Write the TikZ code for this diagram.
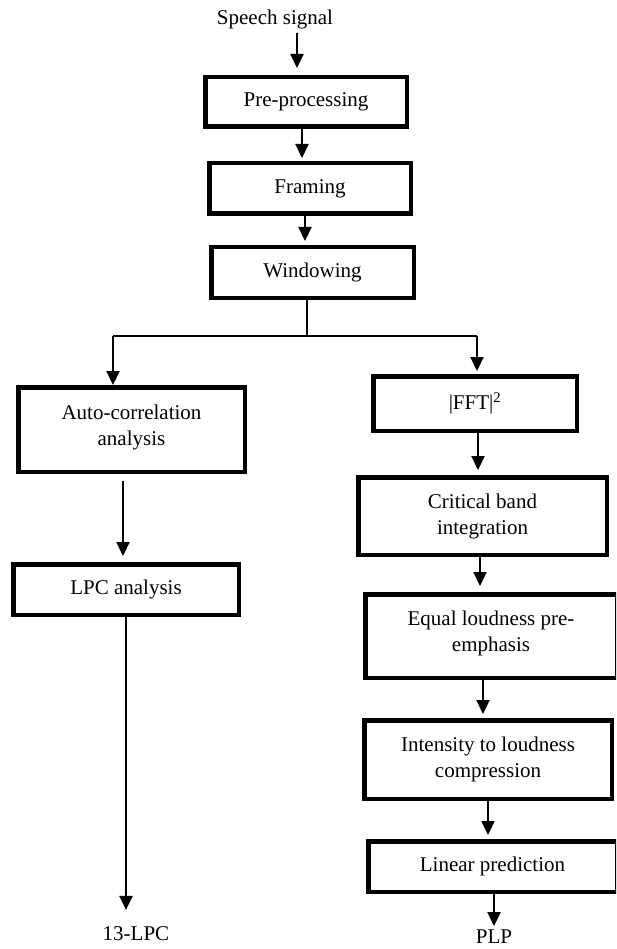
\documentclass[tikz,border=0pt]{standalone}
\usepackage{fontspec}
\setmainfont{Liberation Serif}
\usetikzlibrary{arrows.meta}
\tikzset{
  txt/.style={font=\fontsize{21}{26}\selectfont},
  lbl/.style={txt, inner sep=0pt},
  box/.style={txt, draw, line width=4.5pt, rectangle, inner sep=0pt, align=center},
  arr/.style={line width=2.2pt, -{Triangle[width=13pt,length=14pt]}},
  conn/.style={line width=2.2pt},
  thinline/.style={line width=1.7pt},
}
\begin{document}
\begin{tikzpicture}[x=1pt,y=-1pt]
\useasboundingbox (0,0) rectangle (616,949);
\clip (0,0) rectangle (616,949);
% labels
\node[lbl, anchor=base] (speech) at (275,25) {Speech signal};
\node[lbl, anchor=base] (lpc13) at (136,940) {13-LPC};
\node[lbl, anchor=base] (plp) at (494,943) {PLP};
% boxes
\node[box, minimum width=201.5pt, minimum height=49.5pt] (pre) at (306,102) {Pre-processing};
\node[box, minimum width=201.5pt, minimum height=50.5pt] (fram) at (310,188.5) {Framing};
\node[box, minimum width=202.5pt, minimum height=50.5pt] (win) at (312.5,272.5) {Windowing};
\node[box, minimum width=226.5pt, minimum height=84.5pt] (auto) at (131.5,429.5) {Auto-correlation\\analysis\rule[-9pt]{0pt}{0pt}};
\node[box, minimum width=225.5pt, minimum height=50.5pt] (lpc) at (126,589.5) {LPC analysis};
\node[box, minimum width=203.5pt, minimum height=54.5pt] (fft) at (475,403.5) {|FFT|\textsuperscript{2}};
\node[box, minimum width=248.5pt, minimum height=77.5pt] (crit) at (482.5,516) {Critical band\\integration};
\node[box, minimum width=251.5pt, minimum height=83.5pt] (equal) at (491,636) {Equal loudness pre-\\emphasis\rule[-9pt]{0pt}{0pt}};
\node[box, minimum width=247.5pt, minimum height=78.5pt] (inten) at (488,759.5) {Intensity to loudness\\compression};
\node[box, minimum width=248.5pt, minimum height=50.5pt] (lin) at (492.5,866.5) {Linear prediction};
% connector coordinates
\coordinate (c1) at ([xshift=22pt]speech.south);
\coordinate (c2) at ([xshift=-4pt]pre.south);
\coordinate (c3) at ([xshift=-5pt]fram.south);
\coordinate (split) at (307,336);
\coordinate (splitL) at (113,336);
\coordinate (splitR) at (477,336);
\coordinate (c4) at ([xshift=3pt]fft.south);
\coordinate (c5) at ([xshift=-2.5pt]crit.south);
\coordinate (c6) at ([xshift=-8pt]equal.south);
\coordinate (c7) at (inten.south);
\coordinate (c8) at ([xshift=1.5pt]lin.south);
\coordinate (c9) at ([xshift=-8.5pt]auto.south);
\coordinate (c10) at (lpc.south);
% connectors
\draw[arr, shorten <=3pt, shorten >=7pt] (c1) -- (c1 |- pre.north);
\draw[arr, shorten >=3pt] (c2) -- (c2 |- fram.north);
\draw[arr, shorten >=4pt] (c3) -- (c3 |- win.north);
\draw[conn] (win.south -| split) -- (split);
\draw[thinline] (splitL) -- (splitR);
\draw[arr] (splitL) -- (auto.north -| splitL);
\draw[arr, shorten >=3pt] (splitR) -- (fft.north -| splitR);
\draw[arr, shorten <=7pt, shorten >=6pt] (c9) -- (c9 |- lpc.north);
\draw[arr, shorten >=16pt] (c10) -- (c10 |- lpc13.north);
\draw[arr, shorten >=5pt] (c4) -- (c4 |- crit.north);
\draw[arr, shorten >=6pt] (c5) -- (c5 |- equal.north);
\draw[arr, shorten >=4pt] (c6) -- (c6 |- inten.north);
\draw[arr, shorten >=4pt] (c7) -- (c7 |- lin.north);
\draw[arr, shorten >=3pt] (c8) -- (c8 |- plp.north);
\end{tikzpicture}
\end{document}
